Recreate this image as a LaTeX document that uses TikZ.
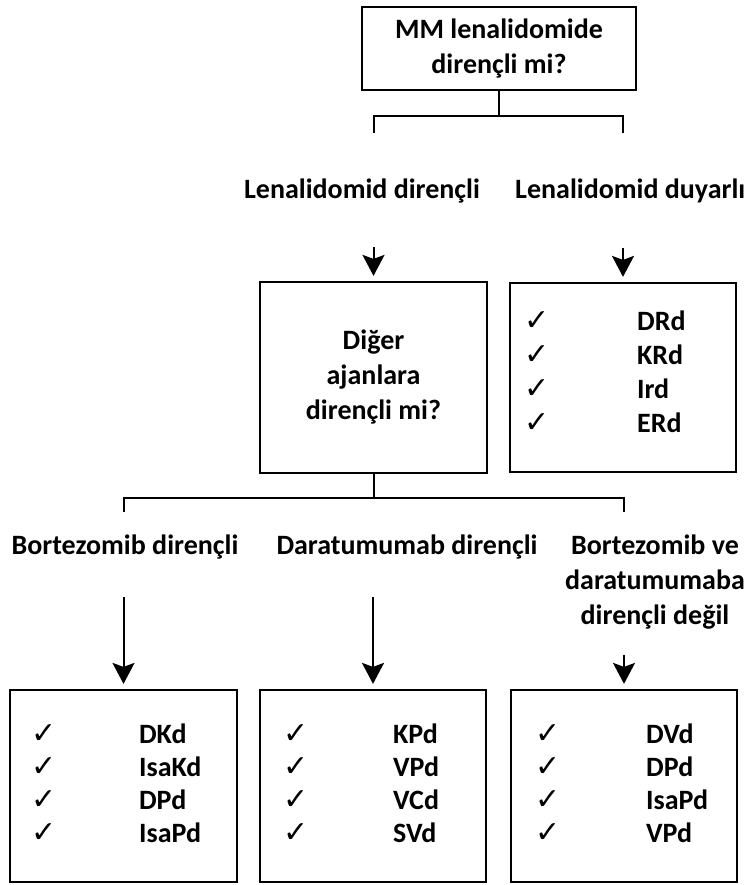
\documentclass[tikz,border=0pt]{standalone}
\usepackage{fontspec}
\setmainfont{Carlito}
\newfontfamily\symfont{DejaVu Sans}
\usetikzlibrary{arrows.meta,calc}

\tikzset{
	box/.style={draw, line width=2.2pt, inner sep=0pt, align=center, font=\bfseries\fontsize{28}{35}\selectfont},
	lbl/.style={inner sep=0pt, align=center, font=\bfseries\fontsize{28}{35}\selectfont},
	chk/.style={inner sep=0pt, font=\symfont\fontsize{30}{30}\selectfont},
	drug/.style={inner sep=0pt, anchor=west, font=\bfseries\fontsize{28}{33}\selectfont},
	link/.style={line width=2pt},
	arr/.style={link, -{Stealth[length=21pt,width=22pt,inset=4pt]}, shorten >=5pt}
}

\begin{document}
\begin{tikzpicture}[x=1pt,y=-1pt]
	\useasboundingbox (0,0) rectangle (745,885);
	\node[box, minimum width=274pt, minimum height=83pt] (mm) at (499,48.5) {MM lenalidomide\\dirençli mi?};
	\node[lbl] (lres) at (362,191) {Lenalidomid dirençli};
	\node[lbl, anchor=west] (lsens) at (515,191) {Lenalidomid duyarlı};
	\node[box, minimum width=227pt, minimum height=191pt] (other) at (373.5,377.5) {Diğer\\ajanlara\\dirençli mi?};
	\node[box, minimum width=226pt, minimum height=189pt] (sens) at (623,377.5) {};
	\node[lbl] (bres) at (125,547) {Bortezomib dirençli};
	\node[lbl] (dres) at (407,547) {Daratumumab dirençli};
	\node[lbl] (nres) at (655,582) {Bortezomib ve\\daratumumaba\\dirençli değil};
	\node[box, minimum width=227pt, minimum height=192pt] (bz) at (123.5,786) {};
	\node[box, minimum width=226pt, minimum height=192pt] (dz) at (373,786) {};
	\node[box, minimum width=226pt, minimum height=192pt] (nz) at (624,786) {};
	\foreach \B/\C/\X/\T/\G/\L in {sens/28/128/5/34/{DRd,KRd,Ird,ERd}, bz/35/130/12/33/{DKd,IsaKd,DPd,IsaPd}, dz/37/134/12/33/{KPd,VPd,VCd,SVd}, nz/38/136/12/33/{DVd,DPd,IsaPd,VPd}}
	{
		\foreach \D [count=\Z] in \L
		{
			\node[chk] (\B-c\Z) at ($(\B.north west)+(\C,\T+\G*\Z)$) {✓};
			\node[drug] (\B-d\Z) at ($(\B.north west)+(\X,\T+\G*\Z)$) {\D};
		}
	}
	\draw[link] (mm.south) -- ++(0,25) coordinate (j1);
	\draw[link] ($(other.north |- j1)+(0,17)$) -- (other.north |- j1) -- (sens.north |- j1) -- ++(0,17);
	\draw[arr] ($(other.north)+(0,-34)$) -- (other);
	\draw[arr] ($(sens.north)+(0,-34)$) -- (sens);
	\draw[link] (other.south) -- ++(0,24) coordinate (j2);
	\draw[link] ($(bz.north |- j2)+(0,14)$) -- (bz.north |- j2) -- (nz.north |- j2) -- ++(0,14);
	\draw[arr] ($(bz.north)+(0,-92)$) -- (bz);
	\draw[arr] ($(dz.north)+(0,-92)$) -- (dz);
	\draw[arr] ($(nz.north)+(0,-34)$) -- (nz);
\end{tikzpicture}
\end{document}
